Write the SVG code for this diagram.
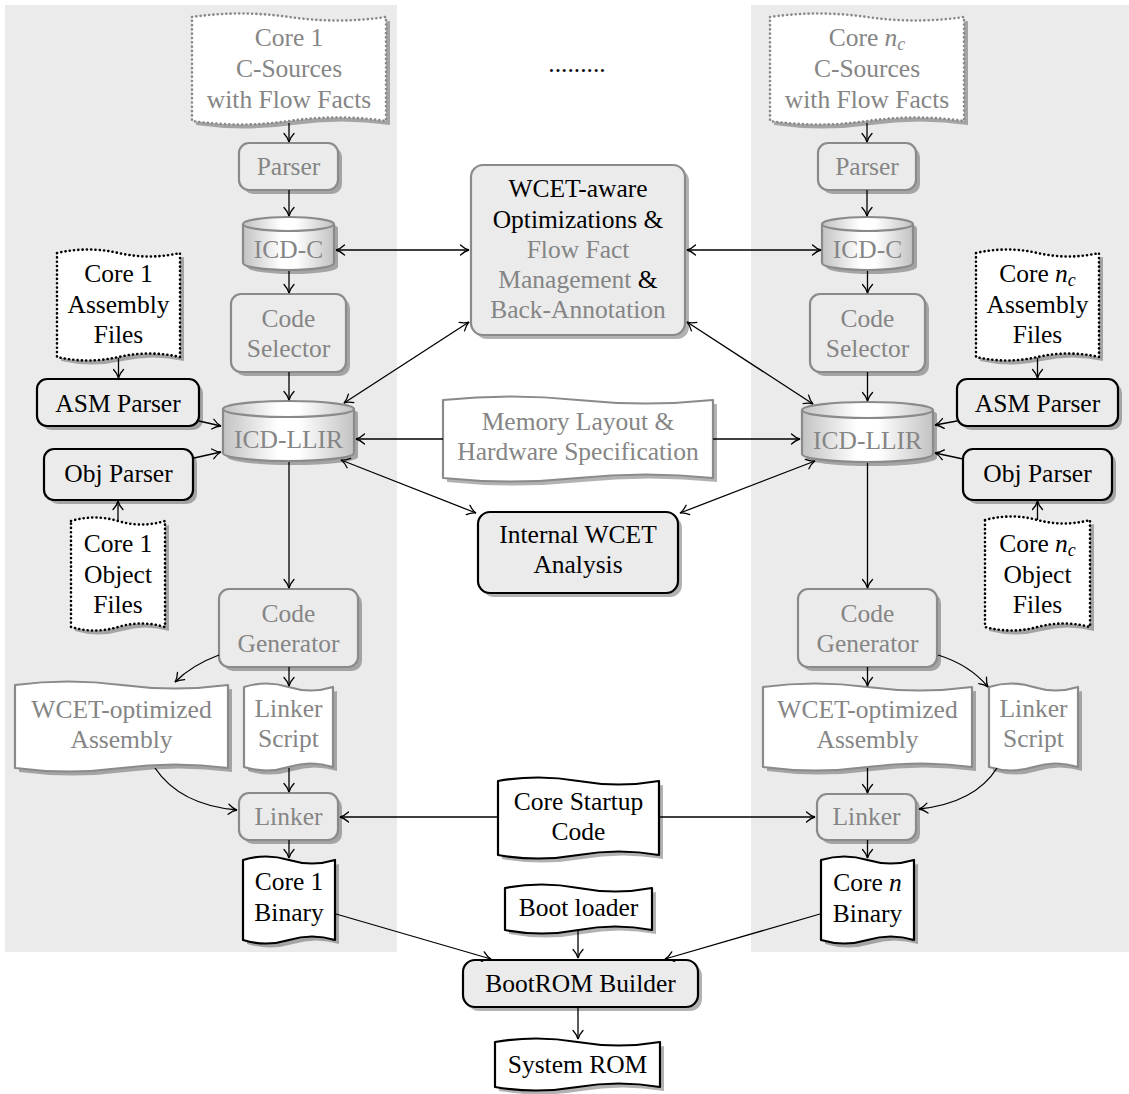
<svg xmlns="http://www.w3.org/2000/svg" xmlns:xlink="http://www.w3.org/1999/xlink" width="1129" height="1094" viewBox="0 0 1129 1094">
  <style>
    text { font-family: "Liberation Serif", "Times New Roman", serif; font-size: 25.5px; text-anchor: middle; fill: #000; }
    text.g { fill: #858585; }
    .panel { fill: #ebebeb; }
    .shadow { fill: #000; fill-opacity: 0.3; stroke: none; }
    .box-g { fill: #ebebeb; stroke: #8a8a8a; stroke-width: 2.2; }
    .box-k { fill: #ebebeb; stroke: #000; stroke-width: 2.2; }
    .doc-g { fill: #fff; stroke: #8a8a8a; stroke-width: 2.2; stroke-linejoin: round; }
    .doc-k { fill: #fff; stroke: #000; stroke-width: 2.2; stroke-linejoin: round; }
    .dotted { stroke-dasharray: 0.1 4.2; stroke-linecap: round; stroke-width: 2.6; }
    .cyl { fill: url(#cylShade); stroke: #8a8a8a; stroke-width: 2.2; }
    .edge { fill: none; stroke: #000; stroke-width: 1.3; marker-end: url(#ah); }
    .both { marker-start: url(#ah); }
    .it { font-style: italic; }
  </style>
  <defs>
    <linearGradient id="cylShade" x1="0" y1="0" x2="1" y2="0">
      <stop offset="0" stop-color="#c2c2c2"/>
      <stop offset="0.42" stop-color="#ffffff"/>
      <stop offset="0.58" stop-color="#ffffff"/>
      <stop offset="1" stop-color="#c2c2c2"/>
    </linearGradient>
    <marker id="ah" viewBox="-10 -6 11 12" refX="0" refY="0" markerWidth="11" markerHeight="12" markerUnits="userSpaceOnUse" orient="auto-start-reverse">
      <path d="M-8.5,-5 C-5.5,-2.2 -2.2,-0.5 0,0 C-2.2,0.5 -5.5,2.2 -8.5,5" fill="none" stroke="#000" stroke-width="1.3" stroke-linecap="round"/>
    </marker>
    <!-- wavy "tape" outlines for document nodes -->
    <path id="t-srcL" d="M192 17 Q240.5 10 289 17 T386 17 L386 121 Q337.5 114 289 121 T192 121Z"/>
    <path id="t-srcR" d="M770 17 Q818.5 10 867 17 T964 17 L964 121 Q915.5 114 867 121 T770 121Z"/>
    <path id="t-asmL" d="M57 253 Q87.75 246 118.5 253 T180 253 L180 357 Q149.25 350 118.5 357 T57 357Z"/>
    <path id="t-asmR" d="M976 253 Q1006.75 246 1037.5 253 T1099 253 L1099 357 Q1068.25 350 1037.5 357 T976 357Z"/>
    <path id="t-objL" d="M71 521 Q94.5 514 118 521 T165 521 L165 627 Q141.5 620 118 627 T71 627Z"/>
    <path id="t-objR" d="M985 520 Q1011.25 513 1037.5 520 T1090 520 L1090 627 Q1063.75 620 1037.5 627 T985 627Z"/>
    <path id="t-mem" d="M443 400 Q510.5 393 578 400 T713 400 L713 478 Q645.5 471 578 478 T443 478Z"/>
    <path id="t-wasmL" d="M15 685 Q68.25 678 121.5 685 T228 685 L228 768 Q174.75 761 121.5 768 T15 768Z"/>
    <path id="t-lsL" d="M244 687 Q266.25 680 288.5 687 T333 687 L333 767 Q310.75 760 288.5 767 T244 767Z"/>
    <path id="t-wasmR" d="M763 687 Q815.25 680 867.5 687 T972 687 L972 767 Q919.75 760 867.5 767 T763 767Z"/>
    <path id="t-lsR" d="M989 687 Q1011.25 680 1033.5 687 T1078 687 L1078 767 Q1055.75 760 1033.5 767 T989 767Z"/>
    <path id="t-start" d="M498 781 Q538.25 774 578.5 781 T659 781 L659 855 Q618.75 848 578.5 855 T498 855Z"/>
    <path id="t-binL" d="M243 860 Q266 853 289 860 T335 860 L335 940 Q312 933 289 940 T243 940Z"/>
    <path id="t-binR" d="M821 860 Q844.25 853 867.5 860 T914 860 L914 940 Q890.75 933 867.5 940 T821 940Z"/>
    <path id="t-boot" d="M505 888 Q541.75 881 578.5 888 T652 888 L652 930 Q615.25 923 578.5 930 T505 930Z"/>
    <path id="t-rom" d="M495 1042 Q536.25 1035 577.5 1042 T660 1042 L660 1087 Q618.75 1080 577.5 1087 T495 1087Z"/>
  </defs>

  <!-- per-core background panels -->
  <rect class="panel" x="5" y="5" width="392" height="947"/>
  <rect class="panel" x="751" y="5" width="378" height="947"/>

  <text x="577" y="72">.........</text>

  <!-- ===== core 1 column ===== -->
  <g id="srcL">
    <use class="shadow" href="#t-srcL" x="4" y="4"/>
    <use class="doc-g dotted" href="#t-srcL"/>
    <text class="g" x="289" y="46">Core 1</text>
    <text class="g" x="289" y="77">C-Sources</text>
    <text class="g" x="289" y="108">with Flow Facts</text>
  </g>
  <g id="parserL">
    <rect class="shadow" x="243" y="147" width="99" height="47" rx="10"/>
    <rect class="box-g" x="239" y="143" width="99" height="47" rx="10"/>
    <text class="g" x="288.5" y="175">Parser</text>
  </g>
  <g id="icdcL">
    <path class="shadow" d="M247 228 A45.5 7 0 0 1 338 228 L338 267 A45.5 7 0 0 1 247 267Z"/>
    <path class="cyl" d="M243 224 L243 263 A45.5 7 0 0 0 334 263 L334 224"/>
    <ellipse class="cyl" cx="288.5" cy="224" rx="45.5" ry="7"/>
    <text class="g" x="288.5" y="258">ICD-C</text>
  </g>
  <g id="selL">
    <rect class="shadow" x="235" y="298" width="115" height="78" rx="10"/>
    <rect class="box-g" x="231" y="294" width="115" height="78" rx="10"/>
    <text class="g" x="288.5" y="327">Code</text>
    <text class="g" x="288.5" y="357">Selector</text>
  </g>
  <g id="llirL">
    <path class="shadow" d="M227 413 A65.5 8 0 0 1 358 413 L358 457 A65.5 8 0 0 1 227 457Z"/>
    <path class="cyl" d="M223 409 L223 453 A65.5 8 0 0 0 354 453 L354 409"/>
    <ellipse class="cyl" cx="288.5" cy="409" rx="65.5" ry="8"/>
    <text class="g" x="288.5" y="448">ICD-LLIR</text>
  </g>
  <g id="asmFilesL">
    <use class="shadow" href="#t-asmL" x="4" y="4"/>
    <use class="doc-k dotted" href="#t-asmL"/>
    <text x="118.5" y="282">Core 1</text>
    <text x="118.5" y="313">Assembly</text>
    <text x="118.5" y="343">Files</text>
  </g>
  <g id="asmParserL">
    <rect class="shadow" x="41" y="383" width="162" height="47" rx="10"/>
    <rect class="box-k" x="37" y="379" width="162" height="47" rx="10"/>
    <text x="118" y="412">ASM Parser</text>
  </g>
  <g id="objParserL">
    <rect class="shadow" x="48" y="453" width="149" height="51" rx="10"/>
    <rect class="box-k" x="44" y="449" width="149" height="51" rx="10"/>
    <text x="118.5" y="482">Obj Parser</text>
  </g>
  <g id="objFilesL">
    <use class="shadow" href="#t-objL" x="4" y="4"/>
    <use class="doc-k dotted" href="#t-objL"/>
    <text x="118" y="552">Core 1</text>
    <text x="118" y="583">Object</text>
    <text x="118" y="613">Files</text>
  </g>
  <g id="genL">
    <rect class="shadow" x="223" y="593" width="139" height="78" rx="10"/>
    <rect class="box-g" x="219" y="589" width="139" height="78" rx="10"/>
    <text class="g" x="288.5" y="622">Code</text>
    <text class="g" x="288.5" y="652">Generator</text>
  </g>
  <g id="wasmL">
    <use class="shadow" href="#t-wasmL" x="4" y="4"/>
    <use class="doc-g" href="#t-wasmL"/>
    <text class="g" x="121.5" y="718">WCET-optimized</text>
    <text class="g" x="121.5" y="748">Assembly</text>
  </g>
  <g id="scriptL">
    <use class="shadow" href="#t-lsL" x="4" y="4"/>
    <use class="doc-g" href="#t-lsL"/>
    <text class="g" x="288.5" y="717">Linker</text>
    <text class="g" x="288.5" y="747">Script</text>
  </g>
  <g id="linkerL">
    <rect class="shadow" x="243" y="797" width="99" height="47" rx="10"/>
    <rect class="box-g" x="239" y="793" width="99" height="47" rx="10"/>
    <text class="g" x="288.5" y="825">Linker</text>
  </g>
  <g id="binL">
    <use class="shadow" href="#t-binL" x="4" y="4"/>
    <use class="doc-k" href="#t-binL"/>
    <text x="289" y="890">Core 1</text>
    <text x="289" y="921">Binary</text>
  </g>

  <!-- ===== shared middle ===== -->
  <g id="wcetOpt">
    <rect class="shadow" x="475" y="169" width="214" height="170" rx="12"/>
    <rect class="box-g" x="471" y="165" width="214" height="170" rx="12"/>
    <text x="578" y="197">WCET-aware</text>
    <text x="578" y="228">Optimizations &amp;</text>
    <text class="g" x="578" y="258">Flow Fact</text>
    <text x="578" y="288"><tspan fill="#858585">Management</tspan> &amp;</text>
    <text class="g" x="578" y="318">Back-Annotation</text>
  </g>
  <g id="memLayout">
    <use class="shadow" href="#t-mem" x="4" y="4"/>
    <use class="doc-g" href="#t-mem"/>
    <text class="g" x="578" y="430">Memory Layout &amp;</text>
    <text class="g" x="578" y="460">Hardware Specification</text>
  </g>
  <g id="wcetAnalysis">
    <rect class="shadow" x="482" y="516" width="200" height="81" rx="12"/>
    <rect class="box-k" x="478" y="512" width="200" height="81" rx="12"/>
    <text x="578" y="543">Internal WCET</text>
    <text x="578" y="573">Analysis</text>
  </g>
  <g id="startup">
    <use class="shadow" href="#t-start" x="4" y="4"/>
    <use class="doc-k" href="#t-start"/>
    <text x="578.5" y="810">Core Startup</text>
    <text x="578.5" y="840">Code</text>
  </g>
  <g id="bootLoader">
    <use class="shadow" href="#t-boot" x="4" y="4"/>
    <use class="doc-k" href="#t-boot"/>
    <text x="578.5" y="916">Boot loader</text>
  </g>
  <g id="bootRom">
    <rect class="shadow" x="467" y="964" width="235" height="47" rx="12"/>
    <rect class="box-k" x="463" y="960" width="235" height="47" rx="12"/>
    <text x="580.5" y="992">BootROM Builder</text>
  </g>
  <g id="systemRom">
    <use class="shadow" href="#t-rom" x="4" y="4"/>
    <use class="doc-k" href="#t-rom"/>
    <text x="577.5" y="1073">System ROM</text>
  </g>

  <!-- ===== core n column ===== -->
  <g id="srcR">
    <use class="shadow" href="#t-srcR" x="4" y="4"/>
    <use class="doc-g dotted" href="#t-srcR"/>
    <text class="g" x="867" y="46">Core <tspan class="it">n</tspan><tspan class="it" font-size="18" dy="4">c</tspan></text>
    <text class="g" x="867" y="77">C-Sources</text>
    <text class="g" x="867" y="108">with Flow Facts</text>
  </g>
  <g id="parserR">
    <rect class="shadow" x="822" y="147" width="98" height="47" rx="10"/>
    <rect class="box-g" x="818" y="143" width="98" height="47" rx="10"/>
    <text class="g" x="867" y="175">Parser</text>
  </g>
  <g id="icdcR">
    <path class="shadow" d="M826 228 A45.5 7 0 0 1 917 228 L917 267 A45.5 7 0 0 1 826 267Z"/>
    <path class="cyl" d="M822 224 L822 263 A45.5 7 0 0 0 913 263 L913 224"/>
    <ellipse class="cyl" cx="867.5" cy="224" rx="45.5" ry="7"/>
    <text class="g" x="867.5" y="258">ICD-C</text>
  </g>
  <g id="selR">
    <rect class="shadow" x="814" y="298" width="115" height="78" rx="10"/>
    <rect class="box-g" x="810" y="294" width="115" height="78" rx="10"/>
    <text class="g" x="867.5" y="327">Code</text>
    <text class="g" x="867.5" y="357">Selector</text>
  </g>
  <g id="llirR">
    <path class="shadow" d="M806 414 A65.5 8 0 0 1 937 414 L937 458 A65.5 8 0 0 1 806 458Z"/>
    <path class="cyl" d="M802 410 L802 454 A65.5 8 0 0 0 933 454 L933 410"/>
    <ellipse class="cyl" cx="867.5" cy="410" rx="65.5" ry="8"/>
    <text class="g" x="867.5" y="449">ICD-LLIR</text>
  </g>
  <g id="asmFilesR">
    <use class="shadow" href="#t-asmR" x="4" y="4"/>
    <use class="doc-k dotted" href="#t-asmR"/>
    <text x="1037.5" y="282">Core <tspan class="it">n</tspan><tspan class="it" font-size="18" dy="4">c</tspan></text>
    <text x="1037.5" y="313">Assembly</text>
    <text x="1037.5" y="343">Files</text>
  </g>
  <g id="asmParserR">
    <rect class="shadow" x="961" y="383" width="161" height="47" rx="10"/>
    <rect class="box-k" x="957" y="379" width="161" height="47" rx="10"/>
    <text x="1037.5" y="412">ASM Parser</text>
  </g>
  <g id="objParserR">
    <rect class="shadow" x="967" y="453" width="149" height="51" rx="10"/>
    <rect class="box-k" x="963" y="449" width="149" height="51" rx="10"/>
    <text x="1037.5" y="482">Obj Parser</text>
  </g>
  <g id="objFilesR">
    <use class="shadow" href="#t-objR" x="4" y="4"/>
    <use class="doc-k dotted" href="#t-objR"/>
    <text x="1037.5" y="552">Core <tspan class="it">n</tspan><tspan class="it" font-size="18" dy="4">c</tspan></text>
    <text x="1037.5" y="583">Object</text>
    <text x="1037.5" y="613">Files</text>
  </g>
  <g id="genR">
    <rect class="shadow" x="802" y="593" width="139" height="78" rx="10"/>
    <rect class="box-g" x="798" y="589" width="139" height="78" rx="10"/>
    <text class="g" x="867.5" y="622">Code</text>
    <text class="g" x="867.5" y="652">Generator</text>
  </g>
  <g id="wasmR">
    <use class="shadow" href="#t-wasmR" x="4" y="4"/>
    <use class="doc-g" href="#t-wasmR"/>
    <text class="g" x="867.5" y="718">WCET-optimized</text>
    <text class="g" x="867.5" y="748">Assembly</text>
  </g>
  <g id="scriptR">
    <use class="shadow" href="#t-lsR" x="4" y="4"/>
    <use class="doc-g" href="#t-lsR"/>
    <text class="g" x="1033.5" y="717">Linker</text>
    <text class="g" x="1033.5" y="747">Script</text>
  </g>
  <g id="linkerR">
    <rect class="shadow" x="821" y="798" width="99" height="46" rx="10"/>
    <rect class="box-g" x="817" y="794" width="99" height="46" rx="10"/>
    <text class="g" x="866.5" y="825">Linker</text>
  </g>
  <g id="binR">
    <use class="shadow" href="#t-binR" x="4" y="4"/>
    <use class="doc-k" href="#t-binR"/>
    <text x="867.5" y="891">Core <tspan class="it">n</tspan></text>
    <text x="867.5" y="922">Binary</text>
  </g>

  <!-- ===== connectors ===== -->
  <g id="edges">
    <!-- core 1 -->
    <path class="edge" d="M289 123 L289 142"/>
    <path class="edge" d="M289 190 L289 216"/>
    <path class="edge both" d="M336 250 L469 250"/>
    <path class="edge" d="M289 271 L289 293"/>
    <path class="edge" d="M289 372 L289 400"/>
    <path class="edge both" d="M344 403 L469 322"/>
    <path class="edge" d="M443 439 L356 439"/>
    <path class="edge both" d="M341 460 L476 513"/>
    <path class="edge" d="M118.5 358 L118.5 378"/>
    <path class="edge" d="M199 421 L221 426"/>
    <path class="edge" d="M194 458 L221 452"/>
    <path class="edge" d="M118 520 L118 501"/>
    <path class="edge" d="M289 462 L289 588"/>
    <path class="edge" d="M219 655 Q192 665 175 682"/>
    <path class="edge" d="M289 667 L289 686"/>
    <path class="edge" d="M289 768 L289 792"/>
    <path class="edge" d="M155 768 Q180 805 237 810"/>
    <path class="edge" d="M498 817 L340 817"/>
    <path class="edge" d="M289 840 L289 858"/>
    <path class="edge" d="M336 914 L491 959"/>
    <!-- shared -->
    <path class="edge" d="M578 931 L578 958"/>
    <path class="edge" d="M578 1007 L578 1039"/>
    <path class="edge" d="M659 817 L815 817"/>
    <path class="edge" d="M713 439 L800 439"/>
    <!-- core n -->
    <path class="edge" d="M867 123 L867 142"/>
    <path class="edge" d="M867 190 L867 216"/>
    <path class="edge both" d="M821 250 L687 250"/>
    <path class="edge" d="M867.5 271 L867.5 293"/>
    <path class="edge" d="M867.5 372 L867.5 401"/>
    <path class="edge both" d="M813 404 L687 322"/>
    <path class="edge both" d="M815 461 L680 513"/>
    <path class="edge" d="M1037.5 358 L1037.5 378"/>
    <path class="edge" d="M957 421 L935 425"/>
    <path class="edge" d="M963 459 L935 453"/>
    <path class="edge" d="M1037.5 520 L1037.5 501"/>
    <path class="edge" d="M867.5 463 L867.5 588"/>
    <path class="edge" d="M867.5 667 L867.5 686"/>
    <path class="edge" d="M938 655 Q970 665 988 687"/>
    <path class="edge" d="M867.5 768 L867.5 793"/>
    <path class="edge" d="M997 768 Q975 803 919 809"/>
    <path class="edge" d="M867.5 840 L867.5 858"/>
    <path class="edge" d="M820 914 L665 959"/>
  </g>
</svg>
